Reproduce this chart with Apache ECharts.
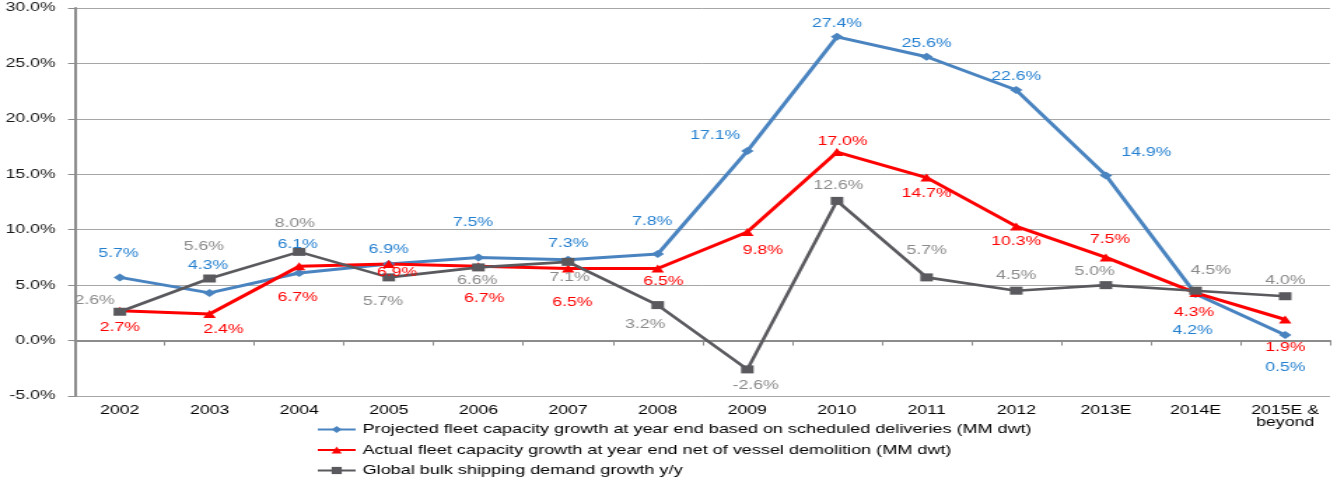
<!DOCTYPE html>
<html>
<head>
<meta charset="utf-8">
<script src="https://cdn.jsdelivr.net/npm/echarts@6/dist/echarts.min.js"></script>
<style>
  html, body { margin: 0; padding: 0; background: #ffffff; overflow: hidden; }
  #wrap { width: 1333px; height: 484px; overflow: hidden; }
  /* chart is laid out in a narrower box and widened horizontally */
  #chart { width: 952px; height: 484px; transform: scaleX(1.4); transform-origin: 0 0; }
</style>
</head>
<body>
<div id="wrap"><div id="chart"></div></div>
<script>
// Categories (years)
const years = ['2002', '2003', '2004', '2005', '2006', '2007', '2008', '2009', '2010', '2011', '2012', '2013E', '2014E', '2015E &\nbeyond'];

// Series values, in percent
const projectedGrowth = [5.7, 4.3, 6.1, 6.9, 7.5, 7.3, 7.8, 17.1, 27.4, 25.6, 22.6, 14.9, 4.2, 0.5];
const actualGrowth    = [2.7, 2.4, 6.7, 6.9, 6.7, 6.5, 6.5, 9.8, 17.0, 14.7, 10.3, 7.5, 4.3, 1.9];
const demandGrowth    = [2.6, 5.6, 8.0, 5.7, 6.6, 7.1, 3.2, -2.6, 12.6, 5.7, 4.5, 5.0, 4.5, 4.0];

// Series names
const seriesNames = [
  'Projected fleet capacity growth at year end based on scheduled deliveries (MM dwt)',
  'Actual fleet capacity growth at year end net of vessel demolition (MM dwt)',
  'Global bulk shipping demand growth y/y'
];

// Value-axis ticks
const yMin = -5, yMax = 30, yStep = 5;

// Per-point label nudges [dx, dy] so the value labels do not collide
const projectedLabelShift = [[-1,-24],[-1,-27],[-1,-28],[0,-15],[-4,-35],[0,-16],[-4,-33],[-23,-15],[0,-13],[0,-13],[0,-14],[29,-23],[-2,37],[0,32]];
const actualLabelShift    = [[0,17],[10,16],[-1,31],[6,8],[4,32],[3,34],[4,13],[11,19],[4,-11],[0,16],[0,15],[3,-18],[-1,20],[0,28]];
const demandLabelShift    = [[-18,-11],[-4,-32],[-3,-28],[-4,24],[-1,13],[1,16],[-9,19],[6,16],[1,-15],[0,-27],[0,-15],[-8,-14],[11,-20],[0,-16]];

const FONT = '"Liberation Sans", Arial, Helvetica, sans-serif';
const FONT_SIZE = 12.6;

function lineSeries(name, values, shifts, lineColor, labelColor, symbol, symbolSize, width) {
  return {
    name: name,
    type: 'line',
    xAxisIndex: 0,
    data: values,
    symbol: symbol,
    symbolSize: symbolSize,
    lineStyle: { color: lineColor, width: width },
    itemStyle: { color: lineColor },
    label: {
      show: true,
      position: 'inside',
      color: labelColor,
      fontFamily: FONT,
      fontSize: FONT_SIZE,
      formatter: p => p.value.toFixed(1) + '%'
    },
    labelLayout: p => ({ dx: shifts[p.dataIndex][0], dy: shifts[p.dataIndex][1], hideOverlap: false }),
    emphasis: { disabled: true },
    animation: false
  };
}

const chart = echarts.init(document.getElementById('chart'), null, { renderer: 'canvas' });

chart.setOption({
  backgroundColor: '#ffffff',
  animation: false,
  grid: { left: 53.6, right: 2, top: 8, bottom: 88, containLabel: false },
  legend: {
    orient: 'vertical',
    left: 226,
    top: 423,
    padding: 0,
    height: 61,
    itemWidth: 27,
    itemHeight: 9,
    itemGap: 7.5,
    textStyle: { fontFamily: FONT, fontSize: 12.9, color: '#000000' },
    data: seriesNames
  },
  xAxis: [
    {
      type: 'category',
      data: years,
      boundaryGap: true,
      axisLine: { show: true, onZero: true, lineStyle: { color: '#8c8c8c', width: 2 } },
      axisTick: { show: true, length: 5, inside: false, alignWithLabel: false, lineStyle: { color: '#8c8c8c', width: 1 } },
      axisLabel: { show: false },
      splitLine: { show: false }
    },
    {
      type: 'category',
      data: years,
      position: 'bottom',
      boundaryGap: true,
      axisLine: { show: false, onZero: false },
      axisTick: { show: false },
      axisLabel: {
        show: true,
        margin: 9,
        interval: 0,
        color: '#000000',
        fontFamily: FONT,
        fontSize: FONT_SIZE,
        lineHeight: 12
      },
      splitLine: { show: false }
    }
  ],
  yAxis: {
    type: 'value',
    min: yMin,
    max: yMax,
    interval: yStep,
    axisLine: { show: true, lineStyle: { color: '#8c8c8c', width: 2 } },
    axisTick: { show: true, length: 5, lineStyle: { color: '#8c8c8c', width: 1 } },
    axisLabel: {
      margin: 14,
      color: '#1a1a1a',
      fontFamily: FONT,
      fontSize: FONT_SIZE,
      formatter: v => v.toFixed(1) + '%'
    },
    splitLine: { show: true, lineStyle: { color: '#a6a6a6', width: 1 } }
  },
  series: [
    lineSeries(seriesNames[0], projectedGrowth, projectedLabelShift, '#4a84c0', '#2580d0', 'diamond', [9, 8], 3),
    lineSeries(seriesNames[1], actualGrowth, actualLabelShift, '#ff0000', '#ff0000', 'triangle', [9, 8], 3),
    lineSeries(seriesNames[2], demandGrowth, demandLabelShift, '#59595e', '#8a8a8a', 'rect', [9, 8], 2.6)
  ]
});
</script>
</body>
</html>
